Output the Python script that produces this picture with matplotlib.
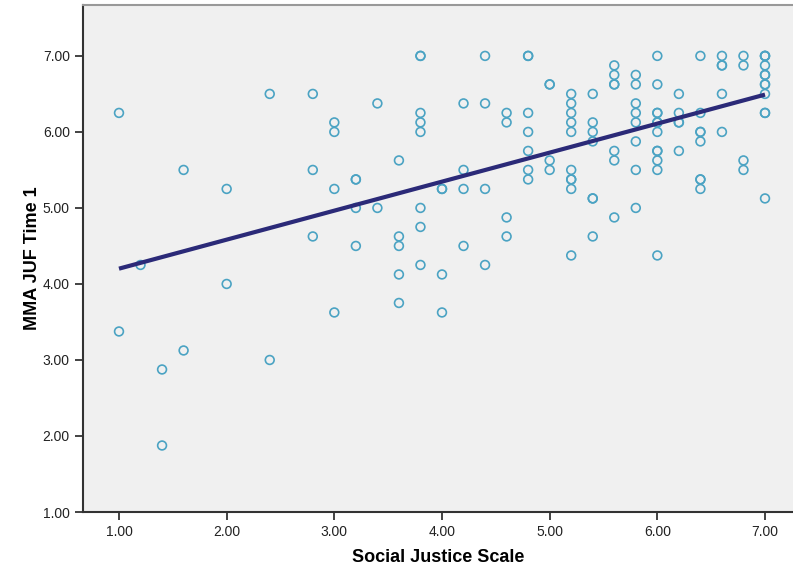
import numpy as np
import matplotlib.pyplot as plt

# Social Justice Scale (x) and MMA JUF Time 1 (y)
sjs = [1.0, 1.0, 1.2, 1.4, 1.4, 1.6, 1.6, 2.0, 2.0, 2.4, 2.4,
       2.8, 2.8, 2.8, 3.0, 3.0, 3.0, 3.0, 3.2, 3.2, 3.2, 3.2,
       3.4, 3.4, 3.6, 3.6, 3.6, 3.6, 3.6,
       3.8, 3.8, 3.8, 3.8, 3.8, 3.8, 3.8, 3.8,
       4.0, 4.0, 4.0, 4.0, 4.2, 4.2, 4.2, 4.2, 4.4, 4.4, 4.4, 4.4,
       4.6, 4.6, 4.6, 4.6, 4.8, 4.8, 4.8, 4.8, 4.8, 4.8, 4.8,
       5.0, 5.0, 5.0, 5.0,
       5.2, 5.2, 5.2, 5.2, 5.2, 5.2, 5.2, 5.2, 5.2, 5.2,
       5.4, 5.4, 5.4, 5.4, 5.4, 5.4, 5.4,
       5.6, 5.6, 5.6, 5.6, 5.6, 5.6, 5.6,
       5.8, 5.8, 5.8, 5.8, 5.8, 5.8, 5.8, 5.8,
       6.0, 6.0, 6.0, 6.0, 6.0, 6.0, 6.0, 6.0, 6.0, 6.0, 6.0, 6.0,
       6.2, 6.2, 6.2, 6.2, 6.2,
       6.4, 6.4, 6.4, 6.4, 6.4, 6.4, 6.4, 6.4,
       6.6, 6.6, 6.6, 6.6, 6.6, 6.8, 6.8, 6.8, 6.8,
       7.0, 7.0, 7.0, 7.0, 7.0, 7.0, 7.0, 7.0, 7.0, 7.0, 7.0, 7.0]
juf = [6.25, 3.375, 4.25, 2.875, 1.875, 5.5, 3.125, 5.25, 4.0, 6.5, 3.0,
       6.5, 5.5, 4.625, 6.125, 6.0, 5.25, 3.625, 5.375, 5.375, 5.0, 4.5,
       6.375, 5.0, 5.625, 4.625, 4.5, 4.125, 3.75,
       7.0, 7.0, 6.25, 6.125, 6.0, 5.0, 4.75, 4.25,
       5.25, 5.25, 4.125, 3.625, 6.375, 5.5, 5.25, 4.5, 7.0, 6.375, 5.25, 4.25,
       6.25, 6.125, 4.875, 4.625, 7.0, 7.0, 6.25, 6.0, 5.75, 5.5, 5.375,
       6.625, 6.625, 5.625, 5.5,
       6.5, 6.375, 6.25, 6.125, 6.0, 5.5, 5.375, 5.375, 5.25, 4.375,
       6.5, 6.125, 6.0, 5.875, 5.125, 5.125, 4.625,
       6.875, 6.75, 6.625, 6.625, 5.75, 5.625, 4.875,
       6.75, 6.625, 6.375, 6.25, 6.125, 5.875, 5.5, 5.0,
       7.0, 6.625, 6.25, 6.25, 6.125, 6.125, 6.0, 5.75, 5.75, 5.625, 5.5, 4.375,
       6.5, 6.25, 6.125, 6.125, 5.75,
       7.0, 6.25, 6.0, 6.0, 5.875, 5.375, 5.375, 5.25,
       7.0, 6.875, 6.875, 6.5, 6.0, 7.0, 6.875, 5.625, 5.5,
       7.0, 7.0, 7.0, 6.875, 6.75, 6.75, 6.625, 6.625, 6.5, 6.25, 6.25, 5.125]

x = np.array(sjs)
y = np.array(juf)
slope, icpt = np.polyfit(x, y, 1)

plt.rcParams['font.family'] = ['Liberation Sans', 'DejaVu Sans']

fig = plt.figure(figsize=(7.93, 5.71), dpi=100)
ax = fig.add_axes([0.1047, 0.1033, 0.8953, 0.888])
ax.set_facecolor('#f0f0f0')

ax.scatter(x, y, s=40, facecolors='none', edgecolors='#4ba3c3', linewidths=1.2, zorder=3)
lx = np.array([x.min(), x.max()])
ax.plot(lx, slope * lx + icpt, color='#2b2a78', lw=3, solid_capstyle='butt', zorder=4)

ax.set_xlim(0.666, 7.26)
ax.set_ylim(1.0, 7.67)
ax.set_xticks(np.arange(1, 8))
ax.set_yticks(np.arange(1, 8))
ax.set_xticklabels(['%.2f' % v for v in range(1, 8)])
ax.set_yticklabels(['%.2f' % v for v in range(1, 8)])
ax.tick_params(labelsize=10, colors='#222222', length=6, width=1.2, direction='out')

for s in ['left', 'bottom']:
    ax.spines[s].set_color('#333333')
    ax.spines[s].set_linewidth(1.5)
ax.spines['top'].set_color('#999999')
ax.spines['top'].set_linewidth(1.5)
ax.spines['right'].set_visible(False)

ax.set_xlabel('Social Justice Scale', fontsize=13, fontweight='bold', labelpad=7)
ax.set_ylabel('MMA JUF Time 1', fontsize=13, fontweight='bold', labelpad=1)

fig.savefig('out.png', dpi=100)
